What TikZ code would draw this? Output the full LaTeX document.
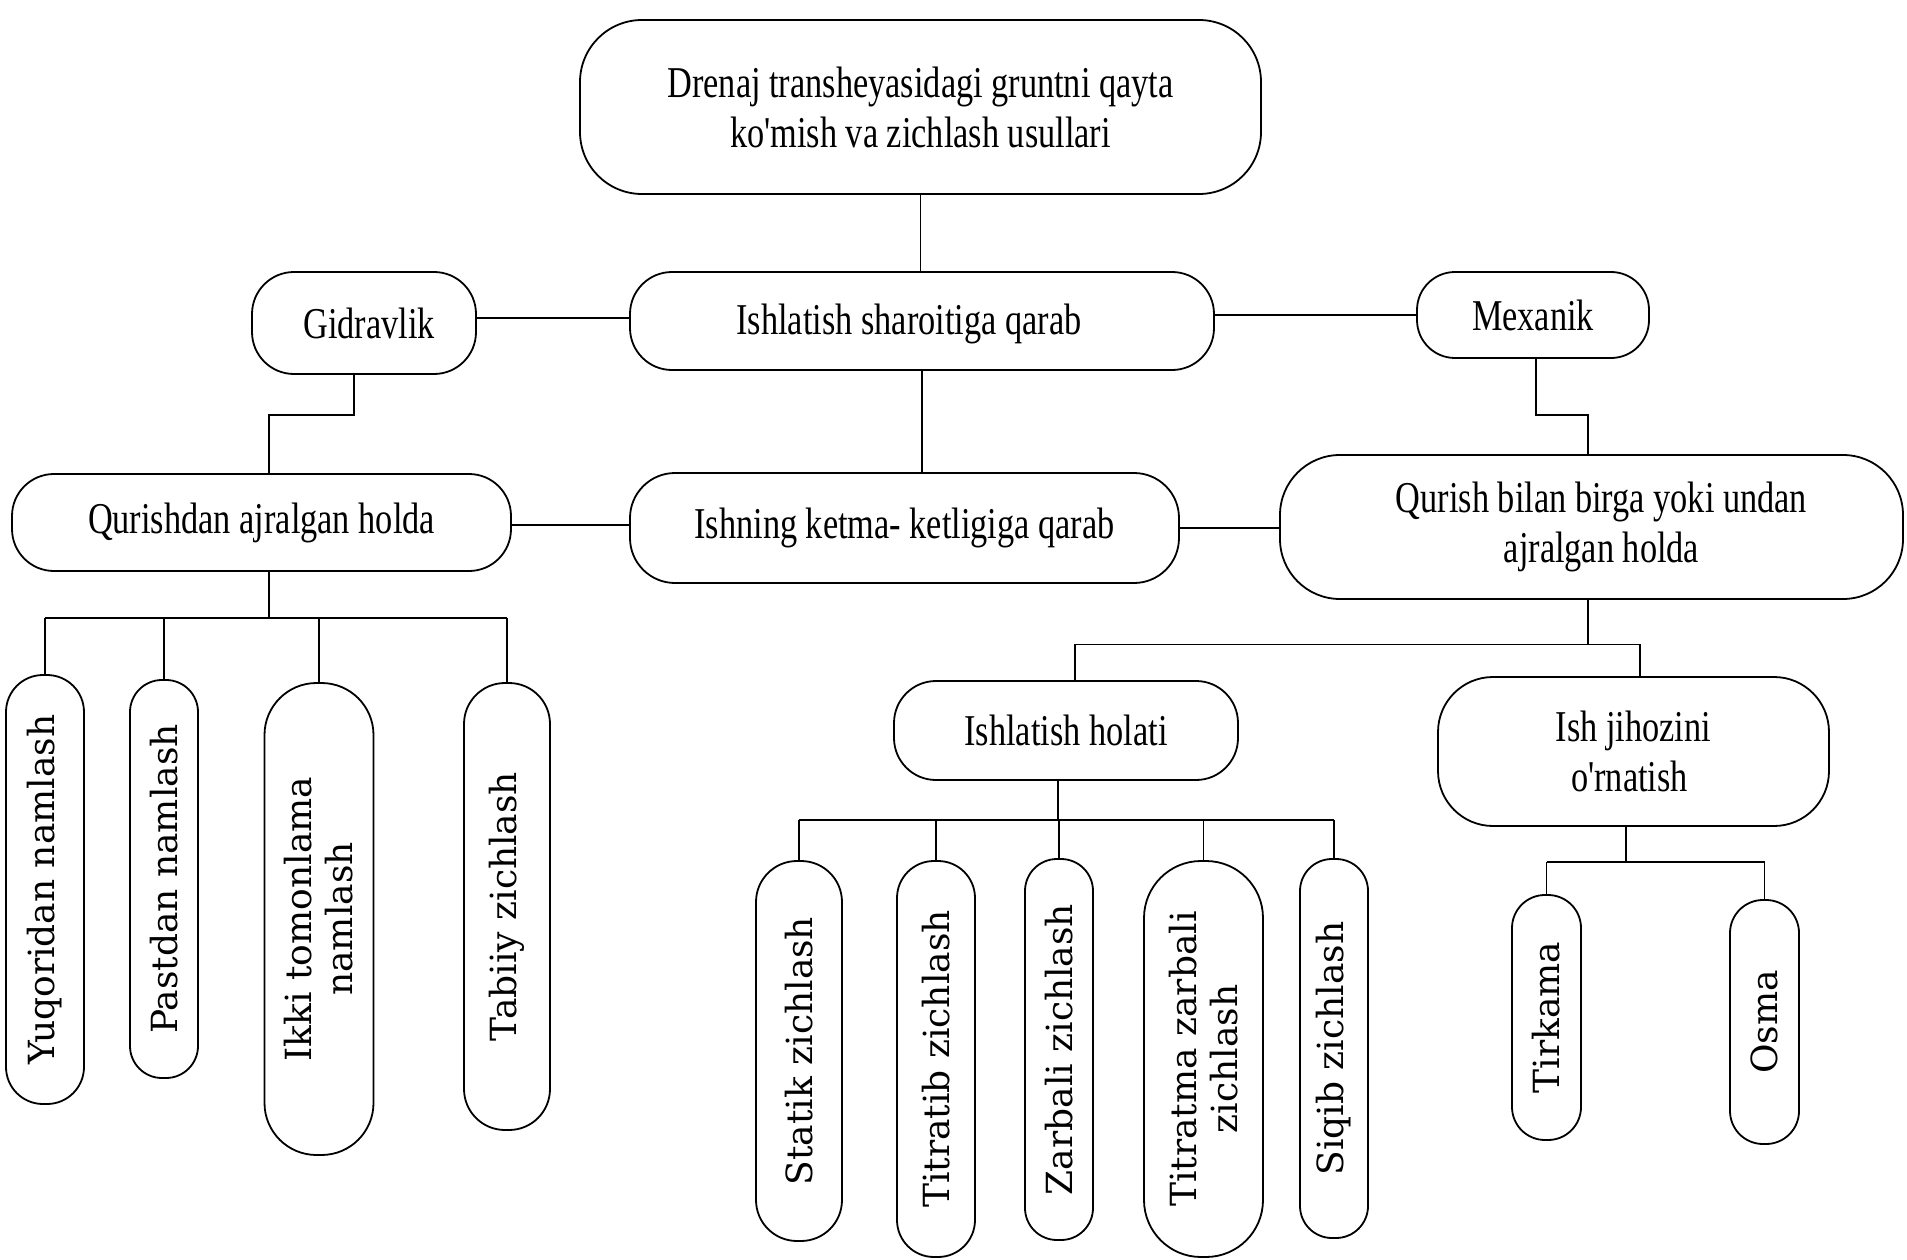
\documentclass[tikz,border=0pt]{standalone}
\usepackage{fontspec}
\newfontfamily\hfont{Liberation Serif}[FakeStretch=0.78]
\newfontfamily\vfont{DejaVuSerif.ttf}
\begin{document}
\begin{tikzpicture}[x=1pt,y=-1pt,line width=1.8pt,
  hbox/.style={draw,rounded corners=#1,align=center,inner sep=0pt,
    font=\hfont\fontsize{44}{50}\selectfont},
  vbox/.style={draw,rounded corners=#1,rotate=90,align=center,inner sep=0pt,
    font=\vfont\fontsize{36}{41}\selectfont}]
\useasboundingbox (0,0) rectangle (1907,1260);
% main row nodes
\node[hbox=62pt,minimum width=681pt,minimum height=174pt] (top) at (920.5,107) {Drenaj transheyasidagi gruntni qayta\\ko'mish va zichlash usullari};
\node[hbox=42pt,minimum width=584pt,minimum height=98pt,text depth=4pt] (ish1) at (922,321) {Ishlatish sharoitiga qarab\hspace*{26pt}};
\node[hbox=42pt,minimum width=224pt,minimum height=102pt] (gid) at (364,323) {\hspace*{10pt}Gidravlik};
\node[hbox=38pt,minimum width=232pt,minimum height=86pt] (mex) at (1533,315) {Mexanik};
\node[hbox=42pt,minimum width=499pt,minimum height=97pt] (qur1) at (261.5,522.5) {Qurishdan ajralgan holda};
\node[hbox=45pt,minimum width=549pt,minimum height=110pt] (ishn) at (904.5,528) {Ishning ketma- ketligiga qarab};
\node[hbox=60pt,minimum width=623pt,minimum height=144pt] (qur2) at (1591.5,527) {\hspace*{20pt}Qurish bilan birga yoki undan\\\hspace*{20pt}ajralgan holda};
\node[hbox=42pt,minimum width=344pt,minimum height=99pt] (holat) at (1066,730.5) {Ishlatish holati};
\node[hbox=55pt,minimum width=391pt,minimum height=149pt] (jihoz) at (1633.5,751.5) {Ish jihozini\\o'rnatish\hspace*{8pt}};
% left vertical boxes
\node[vbox=37pt,minimum width=429pt,minimum height=78pt] (yuq) at (45,889.5) {Yuqoridan namlash};
\node[vbox=32pt,minimum width=398pt,minimum height=68pt] (past) at (164,879) {Pastdan namlash};
\node[vbox=52pt,minimum width=472pt,minimum height=109pt] (ikki) at (319,919) {Ikki tomonlama\\namlash};
\node[vbox=41pt,minimum width=447pt,minimum height=86pt] (tab) at (507,906.5) {Tabiiy zichlash};
% middle vertical boxes
\node[vbox=41pt,minimum width=380pt,minimum height=86pt] (stat) at (799,1051) {Statik zichlash};
\node[vbox=37pt,minimum width=396pt,minimum height=78pt] (titb) at (936,1059) {Titratib zichlash};
\node[vbox=32pt,minimum width=381pt,minimum height=68pt] (zarb) at (1059,1049.5) {Zarbali zichlash};
\node[vbox=57pt,minimum width=396pt,minimum height=119pt] (titm) at (1203.5,1059) {Titratma zarbali\\zichlash};
\node[vbox=32pt,minimum width=379pt,minimum height=68pt] (siq) at (1334,1048.5) {Siqib zichlash};
% right vertical boxes
\node[vbox=33pt,minimum width=245pt,minimum height=69pt] (tirk) at (1546.5,1017.5) {Tirkama};
\node[vbox=33pt,minimum width=244pt,minimum height=69pt] (osma) at (1764.5,1022) {Osma};
% helper coordinates
\coordinate (L1) at (0,415);
\coordinate (L2) at (0,618);
\coordinate (L3) at (0,644.5);
\coordinate (L4) at (0,820);
\coordinate (L5) at (0,862);
\coordinate (g1) at ([xshift=-10pt]gid.south);
\coordinate (q1n) at ([xshift=7.5pt]qur1.north);
\coordinate (m1) at ([xshift=3pt]mex.south);
\coordinate (q2n) at ([xshift=-3.5pt]qur2.north);
\coordinate (a1) at ([yshift=5pt]gid.east);
\coordinate (qc) at ([yshift=-2.5pt]qur1.east);
\coordinate (q1s) at ([xshift=7.5pt]qur1.south);
\coordinate (q2s) at ([xshift=-3.5pt]qur2.south);
\coordinate (hn) at ([xshift=9pt]holat.north);
\coordinate (jn) at ([xshift=6.5pt]jihoz.north);
\coordinate (hs) at ([xshift=-8pt]holat.south);
\coordinate (js) at ([xshift=-7.5pt]jihoz.south);
% connectors
\draw (top.south) -- (top.south |- ish1.north);
\draw (a1) -- (a1 -| ish1.west);
\draw (mex.west) -- (mex.west -| ish1.east);
\draw (ish1.south) -- (ish1.south |- ishn.north);
\draw (g1) -- (g1 |- L1) -| (q1n);
\draw (m1) -- (m1 |- L1) -| (q2n);
\draw (qc) -- (qc -| ishn.west);
\draw (ishn.east) -- (ishn.east -| qur2.west);
% left bus
\draw (q1s) -- (q1s |- L2);
\draw (yuq.east |- L2) -- (tab.east |- L2);
\foreach \n in {yuq,past,ikki,tab} \draw (\n.east) -- (\n.east |- L2);
% right bus
\draw (q2s) -- (q2s |- L3);
\draw (hn) -- (hn |- L3) -- (jn |- L3) -- (jn);
% holat bus
\draw (hs) -- (hs |- L4);
\draw (stat.east |- L4) -- (siq.east |- L4);
\foreach \n in {stat,titb,zarb,titm,siq} \draw (\n.east) -- (\n.east |- L4);
% jihoz bus
\draw (js) -- (js |- L5);
\draw (tirk.east |- L5) -- (osma.east |- L5);
\foreach \n in {tirk,osma} \draw (\n.east) -- (\n.east |- L5);
\end{tikzpicture}
\end{document}
